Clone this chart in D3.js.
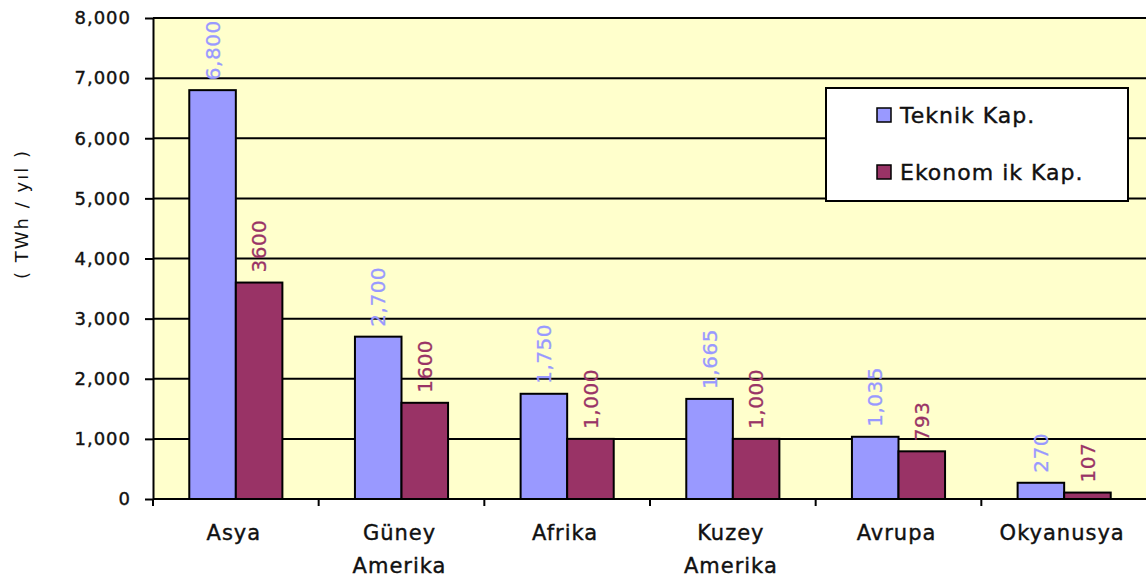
<!DOCTYPE html>
<html>
<head>
<meta charset="utf-8">
<script src="https://cdn.jsdelivr.net/npm/d3@7"></script>
<style>
  html, body { margin: 0; padding: 0; background: #ffffff; }
  svg { display: block; font-family: "DejaVu Sans", Verdana, sans-serif; }
</style>
</head>
<body>
<svg id="chart" width="1146" height="579"></svg>
<script>
// Hydropower potential by region (TWh / yıl)
const categories = [["Asya"], ["Güney", "Amerika"], ["Afrika"], ["Kuzey", "Amerika"], ["Avrupa"], ["Okyanusya"]];
const seriesNames = ["Teknik Kap.", "Ekonomik Kap."];
const legendLabels = ["Teknik Kap.", "Ekonom ik Kap."];
const teknik = [6800, 2700, 1750, 1665, 1035, 270];
const ekonomik = [3600, 1600, 1000, 1000, 793, 107];
const teknikLabels = ["6,800", "2,700", "1,750", "1,665", "1,035", "270"];
const ekonomikLabels = ["3600", "1600", "1,000", "1,000", "793", "107"];
const yTicks = [0, 1000, 2000, 3000, 4000, 5000, 6000, 7000, 8000];
const yTitle = "( TWh / yıl )";

const colors = { "Teknik Kap.": "#9999ff", "Ekonomik Kap.": "#993366" };
const labelColors = { "Teknik Kap.": "#9999ff", "Ekonomik Kap.": "#993366" };

const svg = d3.select("#chart");
const plot = { left: 153, right: 1147, top: 18, bottom: 499 };

const keys = categories.map((c, i) => i);
const x0 = d3.scaleBand().domain(keys).range([plot.left, plot.right]).padding(0);
const bw = x0.bandwidth();
const x1 = d3.scaleBand().domain(seriesNames).range([bw * 0.219, bw * 0.781]).padding(0);
const y = d3.scaleLinear().domain([0, 8000]).range([plot.bottom, plot.top]);

// plot background
svg.append("rect")
  .attr("x", plot.left).attr("y", plot.top)
  .attr("width", plot.right - plot.left).attr("height", plot.bottom - plot.top)
  .attr("fill", "#ffffcc");

// horizontal gridlines
svg.append("g").selectAll("line").data(yTicks.filter(t => t > 0)).join("line")
  .attr("x1", plot.left).attr("x2", plot.right)
  .attr("y1", d => y(d)).attr("y2", d => y(d))
  .attr("stroke", "#000").attr("stroke-width", 2);

// y axis
const yAxis = svg.append("g")
  .attr("transform", `translate(${plot.left},0)`)
  .call(d3.axisLeft(y).tickValues(yTicks).tickFormat(d3.format(",")).tickSize(8).tickSizeOuter(0).tickPadding(14));
yAxis.select(".domain").attr("stroke", "#000").attr("stroke-width", 2);
yAxis.selectAll(".tick line").attr("stroke", "#000").attr("stroke-width", 2);
yAxis.selectAll(".tick text")
  .attr("font-size", 18).attr("letter-spacing", "1px").attr("fill", "#111")
  .attr("stroke", "#111").attr("stroke-width", 0.4)
  .attr("font-family", "\"DejaVu Sans\", sans-serif");

// bars
const series = [
  { name: "Teknik Kap.", values: teknik, labels: teknikLabels },
  { name: "Ekonomik Kap.", values: ekonomik, labels: ekonomikLabels }
];
const barData = [];
series.forEach(s => s.values.forEach((v, i) => barData.push({ s: s.name, i, v, label: s.labels[i] })));

svg.append("g").selectAll("rect").data(barData).join("rect")
  .attr("x", d => x0(d.i) + x1(d.s))
  .attr("y", d => y(d.v))
  .attr("width", x1.bandwidth())
  .attr("height", d => y(0) - y(d.v))
  .attr("fill", d => colors[d.s])
  .attr("stroke", "#000").attr("stroke-width", 2);

// value labels (rotated)
svg.append("g").selectAll("text").data(barData).join("text")
  .attr("transform", d => `translate(${x0(d.i) + x1(d.s) + x1.bandwidth() / 2},${y(d.v) - 10}) rotate(-90)`)
  .attr("text-anchor", "start")
  .attr("dy", "0.36em")
  .attr("font-size", 20)
  .attr("letter-spacing", "0.5px")
  .attr("fill", d => labelColors[d.s])
  .attr("stroke", d => labelColors[d.s]).attr("stroke-width", 0.3)
  .text(d => d.label);

// x axis
const xAxis = svg.append("g").attr("transform", `translate(0,${plot.bottom})`);
xAxis.append("line")
  .attr("x1", plot.left).attr("x2", plot.right)
  .attr("stroke", "#000").attr("stroke-width", 2);
xAxis.selectAll("line.tick").data(d3.range(keys.length + 1)).join("line")
  .attr("class", "tick")
  .attr("x1", d => plot.left + d * bw).attr("x2", d => plot.left + d * bw)
  .attr("y1", 0).attr("y2", 7)
  .attr("stroke", "#000").attr("stroke-width", 2);

const catText = xAxis.selectAll("text").data(categories).join("text")
  .attr("text-anchor", "middle")
  .attr("font-size", 21)
  .attr("letter-spacing", "1px")
  .attr("fill", "#111")
  .attr("stroke", "#111").attr("stroke-width", 0.4);
catText.each(function(lines, i) {
  d3.select(this).selectAll("tspan").data(lines).join("tspan")
    .attr("x", x0(i) + bw / 2 - 2)
    .attr("y", (d, j) => 41 + j * 33)
    .text(d => d);
});

// y-axis title
svg.append("text")
  .attr("transform", "translate(22,214) rotate(-90)")
  .attr("text-anchor", "middle")
  .attr("dy", "0.36em")
  .attr("font-size", 18)
  .attr("letter-spacing", "2px")
  .attr("fill", "#111")
  .text(yTitle);

// legend
const legend = svg.append("g");
legend.append("rect")
  .attr("x", 826).attr("y", 88).attr("width", 302).attr("height", 113)
  .attr("fill", "#fff").attr("stroke", "#000").attr("stroke-width", 2);
const items = legend.selectAll("g.item").data(seriesNames).join("g")
  .attr("class", "item")
  .attr("transform", (d, i) => `translate(877,${108 + i * 57})`);
items.append("rect")
  .attr("width", 14).attr("height", 14)
  .attr("fill", d => colors[d]).attr("stroke", "#000").attr("stroke-width", 1.5);
items.append("text")
  .attr("x", 23).attr("y", 15)
  .attr("font-size", 22)
  .attr("letter-spacing", "1px")
  .attr("fill", "#111")
  .attr("stroke", "#111").attr("stroke-width", 0.4)
  .text((d, i) => legendLabels[i]);
</script>
</body>
</html>
